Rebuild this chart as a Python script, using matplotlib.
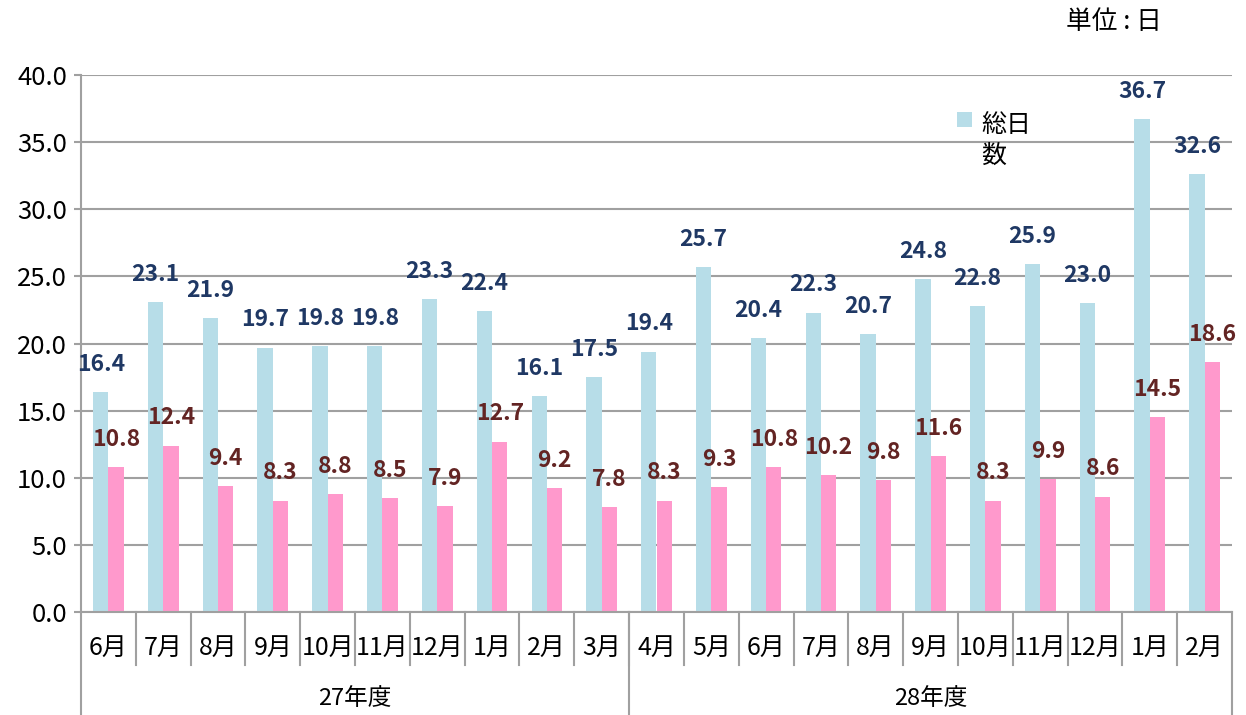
import numpy as np
import matplotlib
matplotlib.use("Agg")
import matplotlib.pyplot as plt
from matplotlib.transforms import blended_transform_factory

plt.rcParams['font.family'] = ['Noto Sans CJK JP', 'DejaVu Sans']

# data
months = ["6月", "7月", "8月", "9月", "10月", "11月", "12月", "1月", "2月", "3月",
          "4月", "5月", "6月", "7月", "8月", "9月", "10月", "11月", "12月", "1月", "2月"]
years = ["27年度", "28年度"]
year_sizes = [10, 11]
total_days = [16.4, 23.1, 21.9, 19.7, 19.8, 19.8, 23.3, 22.4, 16.1, 17.5,
              19.4, 25.7, 20.4, 22.3, 20.7, 24.8, 22.8, 25.9, 23.0, 36.7, 32.6]
other_days = [10.8, 12.4, 9.4, 8.3, 8.8, 8.5, 7.9, 12.7, 9.2, 7.8,
              8.3, 9.3, 10.8, 10.2, 9.8, 11.6, 8.3, 9.9, 8.6, 14.5, 18.6]

blue = "#B7DDE8"
pink = "#FF99CC"
navy = "#1F3864"
maroon = "#632423"
gray = "#A0A0A0"

fig = plt.figure(figsize=(12.46, 7.15), dpi=100)
ax = fig.add_axes([81 / 1246, 103 / 715, 1151 / 1246, 537 / 715])

x = np.arange(len(months))
w = 0.28
b1 = ax.bar(x - w / 2, total_days, w, color=blue, label="総日\n数", zorder=2)
b2 = ax.bar(x + w / 2, other_days, w, color=pink, zorder=2)

for xi, v in zip(x, total_days):
    ax.annotate(f"{v:.1f}", (xi - w / 2, v), xytext=(0, 20), textcoords="offset points",
                ha="center", va="center", fontsize=16.5, fontweight="bold", color=navy)
for xi, v in zip(x, other_days):
    ax.annotate(f"{v:.1f}", (xi + w / 2, v), xytext=(0, 20), textcoords="offset points",
                ha="center", va="center", fontsize=16.5, fontweight="bold", color=maroon)

ax.set_xlim(-0.5, len(months) - 0.5)
ax.set_ylim(0, 40)
ax.set_yticks(np.arange(0, 40.1, 5))
ax.set_yticklabels([f"{t:.1f}" for t in np.arange(0, 40.1, 5)], fontsize=18.5)
ax.yaxis.grid(True, color=gray, linewidth=1.5, zorder=0)
ax.set_axisbelow(True)
ax.tick_params(axis="y", length=5, width=1.5, color=gray, pad=5)
ax.set_xticks([])
for s in ["top", "right"]:
    ax.spines[s].set_visible(False)
for s in ["left", "bottom"]:
    ax.spines[s].set_color(gray)
    ax.spines[s].set_linewidth(1.5)

# two-level category axis
tr = blended_transform_factory(ax.transData, ax.transAxes)
for i, m in enumerate(months):
    ax.text(i, -0.067, m, transform=tr, ha="center", va="center", fontsize=18)
for i in range(1, len(months)):
    ax.plot([i - 0.5, i - 0.5], [0, -0.099], transform=tr, color=gray, lw=1.5, clip_on=False)
start = 0
edges = [-0.5]
for yname, n in zip(years, year_sizes):
    ax.text(start + n / 2 - 0.5, -0.162, yname, transform=tr, ha="center", va="center", fontsize=17)
    start += n
    edges.append(start - 0.5)
for e in edges:
    ax.plot([e, e], [0, -0.195], transform=tr, color=gray, lw=1.5, clip_on=False)

leg = ax.legend(handles=[b1], loc="upper left", bbox_to_anchor=(944 / 1246, 1 - 99 / 715),
                bbox_transform=fig.transFigure, frameon=False, fontsize=18,
                handlelength=0.6, handleheight=0.6, handletextpad=0.4, borderpad=0)
for t in leg.get_texts():
    t.set_linespacing(1.25)
# put the colour box beside the first line of the wrapped label
for col in leg._legend_handle_box.get_children():
    for row in col.get_children():
        row.align = "top"

fig.text(1066 / 1246, 1 - 22 / 715, "単位 : 日", ha="left", va="center", fontsize=18.5)

fig.savefig("out.png", dpi=100)
